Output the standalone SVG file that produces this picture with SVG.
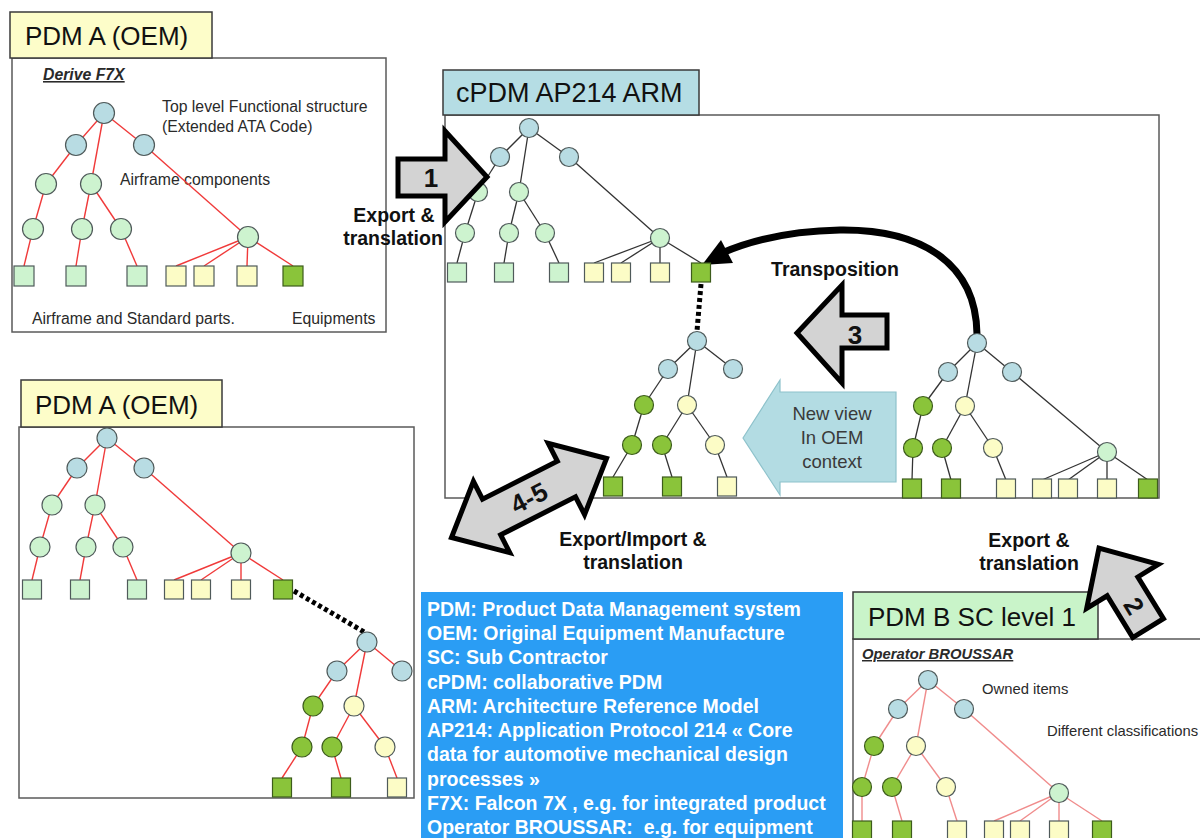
<svg xmlns="http://www.w3.org/2000/svg" width="1200" height="838" viewBox="0 0 1200 838">
<defs>
<style>
text{font-family:"Liberation Sans",Arial,Helvetica,sans-serif;}
.panel{fill:#ffffff;stroke:#5a5a5a;stroke-width:1.5;}
.lab{stroke:#3a3a3a;stroke-width:1.5;}
.title{font-size:26px;fill:#111;}
.small{font-size:15.8px;fill:#2a2a2a;}
.small2{font-size:14.8px;fill:#2a2a2a;}
.ul{font-weight:bold;font-style:italic;text-decoration:underline;}
.bl{font-size:19.5px;font-weight:bold;fill:#111;text-anchor:middle;}
.nd{stroke:#4f5a5a;stroke-width:1.2;}
.b{fill:#b8dce3;}
.g{fill:#cdf3cf;}
.y{fill:#fcfcc6;}
.d{fill:#8ac43a;stroke:#3d5c1c;}
.er line{stroke:#f03a3a;stroke-width:1.4;}
.ep line{stroke:#f08c8c;stroke-width:1.4;}
.ek line{stroke:#333333;stroke-width:1.3;}
.blk{fill:#d3d3d3;stroke:#000;stroke-width:5;stroke-linejoin:miter;}
.num{font-size:26px;font-weight:bold;fill:#111;text-anchor:middle;}
.dot{stroke:#000;stroke-width:5;stroke-dasharray:4 3;fill:none;}
.leg{font-size:19.5px;font-weight:bold;fill:#ffffff;}
</style>
</defs>
<rect width="1200" height="838" fill="#ffffff"/>

<!-- Panels -->
<g id="panel-pdmA-top">
<rect class="panel" x="12" y="58" width="374" height="274"/>
<rect class="lab" x="10" y="12" width="202" height="46" fill="#fdfdc9"/>
<text class="title" x="25" y="45">PDM A (OEM)</text>
<text class="small ul" x="43" y="80">Derive F7X</text>
<text class="small" x="162" y="112">Top level Functional structure</text>
<text class="small" x="162" y="132">(Extended ATA Code)</text>
<text class="small" x="120" y="185">Airframe components</text>
<text class="small" x="32" y="324">Airframe and Standard parts.</text>
<text class="small" x="292" y="324">Equipments</text>
</g>

<g id="panel-cpdm">
<rect class="panel" x="445" y="115" width="714" height="383"/>
<rect class="lab" x="443" y="70" width="256" height="45" fill="#b5dde4"/>
<text class="title" x="456" y="102" style="font-size:27px">cPDM AP214 ARM</text>
</g>

<g id="panel-pdmA-bottom">
<rect class="panel" x="19" y="427" width="395" height="371"/>
<rect class="lab" x="21" y="380" width="201" height="47" fill="#fdfdc9"/>
<text class="title" x="35" y="414">PDM A (OEM)</text>
</g>

<g id="panel-pdmB">
<rect class="panel" x="853" y="639" width="360" height="220"/>
<rect class="lab" x="853" y="592" width="245" height="47" fill="#c9f4c9"/>
<text class="title" x="868" y="626">PDM B SC level 1</text>
<text class="small2 ul" x="862" y="659">Operator BROUSSAR</text>
<text class="small2" x="982" y="694">Owned items</text>
<text class="small2" x="1047" y="736">Different classifications</text>
</g>

<!-- Connectors -->
<g id="connectors">
<g class="er" id="tl-edges">
<line x1="104" y1="113" x2="76" y2="145"/><line x1="104" y1="113" x2="91" y2="184"/><line x1="104" y1="113" x2="144" y2="145"/>
<line x1="76" y1="145" x2="46" y2="184"/><line x1="144" y1="145" x2="248" y2="237"/>
<line x1="46" y1="184" x2="33" y2="229"/><line x1="91" y1="184" x2="82" y2="229"/><line x1="91" y1="184" x2="121" y2="229"/>
<line x1="33" y1="229" x2="24" y2="266"/><line x1="82" y1="229" x2="76" y2="266"/><line x1="121" y1="229" x2="137" y2="266"/>
<line x1="248" y1="237" x2="176" y2="266"/><line x1="248" y1="237" x2="204" y2="266"/><line x1="248" y1="237" x2="247" y2="266"/><line x1="248" y1="237" x2="293" y2="266"/>
</g>
<g class="ek" id="ct-edges">
<line x1="529" y1="128" x2="500" y2="157"/><line x1="529" y1="128" x2="519" y2="192"/><line x1="529" y1="128" x2="569" y2="157"/>
<line x1="500" y1="157" x2="478" y2="192"/><line x1="569" y1="157" x2="660" y2="238"/>
<line x1="478" y1="192" x2="465" y2="233"/><line x1="519" y1="192" x2="509" y2="233"/><line x1="519" y1="192" x2="545" y2="233"/>
<line x1="465" y1="233" x2="457" y2="263"/><line x1="509" y1="233" x2="504" y2="263"/><line x1="545" y1="233" x2="559" y2="263"/>
<line x1="660" y1="238" x2="594" y2="263"/><line x1="660" y1="238" x2="621" y2="263"/><line x1="660" y1="238" x2="660" y2="263"/><line x1="660" y1="238" x2="701" y2="263"/>
</g>
<g class="ek" id="cm-edges">
<line x1="697" y1="341" x2="668" y2="369"/><line x1="697" y1="341" x2="687" y2="405"/><line x1="697" y1="341" x2="733" y2="369"/>
<line x1="668" y1="369" x2="644" y2="405"/>
<line x1="644" y1="405" x2="632" y2="445"/><line x1="687" y1="405" x2="662" y2="445"/><line x1="687" y1="405" x2="715" y2="445"/>
<line x1="632" y1="445" x2="613" y2="477"/><line x1="662" y1="445" x2="672" y2="477"/><line x1="715" y1="445" x2="727" y2="477"/>
</g>
<g class="ek" id="cr-edges">
<line x1="977" y1="343" x2="948" y2="372"/><line x1="977" y1="343" x2="965" y2="406"/><line x1="977" y1="343" x2="1012" y2="372"/>
<line x1="948" y1="372" x2="923" y2="406"/><line x1="1012" y1="372" x2="1107" y2="452"/>
<line x1="923" y1="406" x2="913" y2="448"/><line x1="965" y1="406" x2="942" y2="448"/><line x1="965" y1="406" x2="993" y2="448"/>
<line x1="913" y1="448" x2="912" y2="480"/><line x1="942" y1="448" x2="951" y2="480"/><line x1="993" y1="448" x2="1006" y2="480"/>
<line x1="1107" y1="452" x2="1042" y2="480"/><line x1="1107" y1="452" x2="1068" y2="480"/><line x1="1107" y1="452" x2="1107" y2="480"/><line x1="1107" y1="452" x2="1148" y2="480"/>
</g>
<g class="er" id="bl-edges">
<line x1="107" y1="438" x2="77" y2="468"/><line x1="107" y1="438" x2="95" y2="505"/><line x1="107" y1="438" x2="144" y2="468"/>
<line x1="77" y1="468" x2="52" y2="505"/><line x1="144" y1="468" x2="241" y2="553"/>
<line x1="52" y1="505" x2="40" y2="547"/><line x1="95" y1="505" x2="86" y2="547"/><line x1="95" y1="505" x2="123" y2="547"/>
<line x1="40" y1="547" x2="32" y2="580"/><line x1="86" y1="547" x2="80" y2="580"/><line x1="123" y1="547" x2="137" y2="580"/>
<line x1="241" y1="553" x2="174" y2="580"/><line x1="241" y1="553" x2="201" y2="580"/><line x1="241" y1="553" x2="241" y2="580"/><line x1="241" y1="553" x2="283" y2="580"/>
</g>
<g class="er" id="bs-edges">
<line x1="367" y1="642" x2="337" y2="671"/><line x1="367" y1="642" x2="354" y2="706"/><line x1="367" y1="642" x2="402" y2="671"/>
<line x1="337" y1="671" x2="313" y2="706"/>
<line x1="313" y1="706" x2="302" y2="747"/><line x1="354" y1="706" x2="332" y2="747"/><line x1="354" y1="706" x2="385" y2="747"/>
<line x1="302" y1="747" x2="282" y2="778"/><line x1="332" y1="747" x2="341" y2="778"/><line x1="385" y1="747" x2="397" y2="778"/>
</g>
<g class="ep" id="br-edges">
<line x1="928" y1="680" x2="898" y2="709"/><line x1="928" y1="680" x2="916" y2="746"/><line x1="928" y1="680" x2="964" y2="709"/>
<line x1="898" y1="709" x2="874" y2="746"/><line x1="964" y1="709" x2="1059" y2="793"/>
<line x1="874" y1="746" x2="862" y2="787"/><line x1="916" y1="746" x2="892" y2="787"/><line x1="916" y1="746" x2="946" y2="787"/>
<line x1="862" y1="787" x2="862" y2="821"/><line x1="892" y1="787" x2="902" y2="821"/><line x1="946" y1="787" x2="957" y2="821"/>
<line x1="1059" y1="793" x2="994" y2="821"/><line x1="1059" y1="793" x2="1020" y2="821"/><line x1="1059" y1="793" x2="1059" y2="821"/><line x1="1059" y1="793" x2="1102" y2="821"/>
</g>
<path id="link-cpdm" class="dot" d="M701 284 L697 331"/>
<path id="link-pdmA" class="dot" d="M294 591 L366 633"/>
<g id="transposition">
<path d="M977 334 C976 262 920 229 840 230 C790 231 752 240 722 253" fill="none" stroke="#000" stroke-width="7"/>
<polygon points="702,265 721,240 733,263" fill="#000"/>
</g>
</g>

<!-- Tree nodes -->
<g id="tree-tl" class="nd">
<circle class="b" cx="104" cy="113" r="10.5"/><circle class="b" cx="76" cy="145" r="10.5"/><circle class="b" cx="144" cy="145" r="10.5"/>
<circle class="g" cx="46" cy="184" r="10.5"/><circle class="g" cx="91" cy="184" r="10.5"/>
<circle class="g" cx="33" cy="229" r="10.5"/><circle class="g" cx="82" cy="229" r="10.5"/><circle class="g" cx="121" cy="229" r="10.5"/><circle class="g" cx="248" cy="237" r="10.5"/>
<rect class="g" x="14" y="266" width="20" height="20"/><rect class="g" x="66" y="266" width="20" height="20"/><rect class="g" x="127" y="266" width="20" height="20"/>
<rect class="y" x="166" y="266" width="20" height="20"/><rect class="y" x="194" y="266" width="20" height="20"/><rect class="y" x="237" y="266" width="20" height="20"/>
<rect class="d" x="283" y="266" width="20" height="20"/>
</g>

<g id="tree-ct" class="nd">
<circle class="b" cx="529" cy="128" r="9.5"/><circle class="b" cx="500" cy="157" r="9.5"/><circle class="b" cx="569" cy="157" r="9.5"/>
<circle class="g" cx="478" cy="192" r="9.5"/><circle class="g" cx="519" cy="192" r="9.5"/>
<circle class="g" cx="465" cy="233" r="9.5"/><circle class="g" cx="509" cy="233" r="9.5"/><circle class="g" cx="545" cy="233" r="9.5"/><circle class="g" cx="660" cy="238" r="9.5"/>
<rect class="g" x="447.5" y="263" width="19" height="19"/><rect class="g" x="494.5" y="263" width="19" height="19"/><rect class="g" x="549.5" y="263" width="19" height="19"/>
<rect class="y" x="584.5" y="263" width="19" height="19"/><rect class="y" x="611.5" y="263" width="19" height="19"/><rect class="y" x="650.5" y="263" width="19" height="19"/>
<rect class="d" x="691.5" y="263" width="19" height="19"/>
</g>

<g id="tree-cm" class="nd">
<circle class="b" cx="697" cy="341" r="9.5"/><circle class="b" cx="668" cy="369" r="9.5"/><circle class="b" cx="733" cy="369" r="9.5"/>
<circle class="d" cx="644" cy="405" r="9.5"/><circle class="y" cx="687" cy="405" r="9.5"/>
<circle class="d" cx="632" cy="445" r="9.5"/><circle class="d" cx="662" cy="445" r="9.5"/><circle class="y" cx="715" cy="445" r="9.5"/>
<rect class="d" x="603.5" y="477" width="19" height="19"/><rect class="d" x="662.5" y="477" width="19" height="19"/><rect class="y" x="717.5" y="477" width="19" height="19"/>
</g>

<g id="tree-cr" class="nd">
<circle class="b" cx="977" cy="343" r="9.5"/><circle class="b" cx="948" cy="372" r="9.5"/><circle class="b" cx="1012" cy="372" r="9.5"/>
<circle class="d" cx="923" cy="406" r="9.5"/><circle class="y" cx="965" cy="406" r="9.5"/>
<circle class="d" cx="913" cy="448" r="9.5"/><circle class="d" cx="942" cy="448" r="9.5"/><circle class="y" cx="993" cy="448" r="9.5"/><circle class="g" cx="1107" cy="452" r="9.5"/>
<rect class="d" x="902.5" y="479" width="19" height="19"/><rect class="d" x="941.5" y="479" width="19" height="19"/>
<rect class="y" x="996.5" y="479" width="19" height="19"/><rect class="y" x="1032.5" y="479" width="19" height="19"/><rect class="y" x="1058.5" y="479" width="19" height="19"/><rect class="y" x="1097.5" y="479" width="19" height="19"/>
<rect class="d" x="1138.5" y="479" width="19" height="19"/>
</g>

<g id="tree-bl" class="nd">
<circle class="b" cx="107" cy="438" r="10"/><circle class="b" cx="77" cy="468" r="10"/><circle class="b" cx="144" cy="468" r="10"/>
<circle class="g" cx="52" cy="505" r="10"/><circle class="g" cx="95" cy="505" r="10"/>
<circle class="g" cx="40" cy="547" r="10"/><circle class="g" cx="86" cy="547" r="10"/><circle class="g" cx="123" cy="547" r="10"/><circle class="g" cx="241" cy="553" r="10"/>
<rect class="g" x="22.5" y="580" width="19" height="19"/><rect class="g" x="70.5" y="580" width="19" height="19"/><rect class="g" x="127.5" y="580" width="19" height="19"/>
<rect class="y" x="164.5" y="580" width="19" height="19"/><rect class="y" x="191.5" y="580" width="19" height="19"/><rect class="y" x="231.5" y="580" width="19" height="19"/>
<rect class="d" x="273.5" y="580" width="19" height="19"/>
</g>

<g id="tree-bs" class="nd">
<circle class="b" cx="367" cy="642" r="10"/><circle class="b" cx="337" cy="671" r="10"/><circle class="b" cx="402" cy="671" r="10"/>
<circle class="d" cx="313" cy="706" r="10"/><circle class="y" cx="354" cy="706" r="10"/>
<circle class="d" cx="302" cy="747" r="10"/><circle class="d" cx="332" cy="747" r="10"/><circle class="y" cx="385" cy="747" r="10"/>
<rect class="d" x="272.5" y="778" width="19" height="19"/><rect class="d" x="331.5" y="778" width="19" height="19"/><rect class="y" x="387.5" y="778" width="19" height="19"/>
</g>

<g id="tree-br" class="nd">
<circle class="b" cx="928" cy="680" r="9.5"/><circle class="b" cx="898" cy="709" r="9.5"/><circle class="b" cx="964" cy="709" r="9.5"/>
<circle class="d" cx="874" cy="746" r="9.5"/><circle class="y" cx="916" cy="746" r="9.5"/>
<circle class="d" cx="862" cy="787" r="9.5"/><circle class="d" cx="892" cy="787" r="9.5"/><circle class="y" cx="946" cy="787" r="9.5"/><circle class="g" cx="1059" cy="793" r="9.5"/>
<rect class="d" x="852.5" y="821" width="19" height="19"/><rect class="d" x="892.5" y="821" width="19" height="19"/>
<rect class="y" x="947.5" y="821" width="19" height="19"/><rect class="y" x="984.5" y="821" width="19" height="19"/><rect class="y" x="1010.5" y="821" width="19" height="19"/><rect class="y" x="1049.5" y="821" width="19" height="19"/>
<rect class="d" x="1092.5" y="821" width="19" height="19"/>
</g>

<!-- Block arrows -->
<g id="arrow-1">
<polygon class="blk" points="398,159 445,159 445,131 487,177 445,222 445,196 398,196"/>
<text class="num" x="431" y="187">1</text>
</g>
<text class="bl" x="394" y="222">Export &amp;</text>
<text class="bl" x="393" y="245">translation</text>

<text class="bl" x="835" y="276">Transposition</text>

<g id="arrow-3">
<polygon class="blk" points="797,333 842,285 842,315 887,315 887,348 842,348 842,383"/>
<text class="num" x="855" y="344">3</text>
</g>

<g id="arrow-newview">
<polygon points="743,438 780,380 780,392 896,392 896,482 780,482 780,495" fill="#b3dce3" stroke="#8ec2cb" stroke-width="1.2"/>
<text x="832" y="420" text-anchor="middle" style="font-size:18.5px;fill:#3a3a3a">New view</text>
<text x="832" y="444" text-anchor="middle" style="font-size:18.5px;fill:#3a3a3a">In OEM</text>
<text x="832" y="468" text-anchor="middle" style="font-size:18.5px;fill:#3a3a3a">context</text>
</g>

<g id="arrow-45" transform="translate(529 498) rotate(-27)">
<polygon class="blk" points="87,0 42,-40 42,-20 -42,-20 -42,-40 -87,0 -42,40 -42,20 42,20 42,40"/>
<text class="num" x="0" y="9">4-5</text>
</g>
<text class="bl" x="633" y="546">Export/Import &amp;</text>
<text class="bl" x="633" y="569">translation</text>

<text class="bl" x="1029" y="547">Export &amp;</text>
<text class="bl" x="1029" y="570">translation</text>

<g id="arrow-2" transform="translate(1099 548) rotate(-121.5)">
<polygon class="blk" points="0,0 -45,-42 -45,-18 -94,-18 -94,18 -45,18 -45,42"/>
</g>
<text class="num" transform="translate(1134 606) rotate(58.5)" x="0" y="9">2</text>

<!-- Legend -->
<g id="legend">
<rect x="421" y="592" width="422" height="250" fill="#2a9df4"/>
<text class="leg" x="427" y="616">PDM: Product Data Management system</text>
<text class="leg" x="427" y="640">OEM: Original Equipment Manufacture</text>
<text class="leg" x="427" y="664">SC: Sub Contractor</text>
<text class="leg" x="427" y="689">cPDM: collaborative PDM</text>
<text class="leg" x="427" y="713">ARM: Architecture Reference Model</text>
<text class="leg" x="427" y="737">AP214: Application Protocol 214 « Core</text>
<text class="leg" x="427" y="761">data for automotive mechanical design</text>
<text class="leg" x="427" y="786">processes »</text>
<text class="leg" x="427" y="810">F7X: Falcon 7X , e.g. for integrated product</text>
<text class="leg" x="427" y="834">Operator BROUSSAR:&#160; e.g. for equipment</text>
</g>
</svg>
